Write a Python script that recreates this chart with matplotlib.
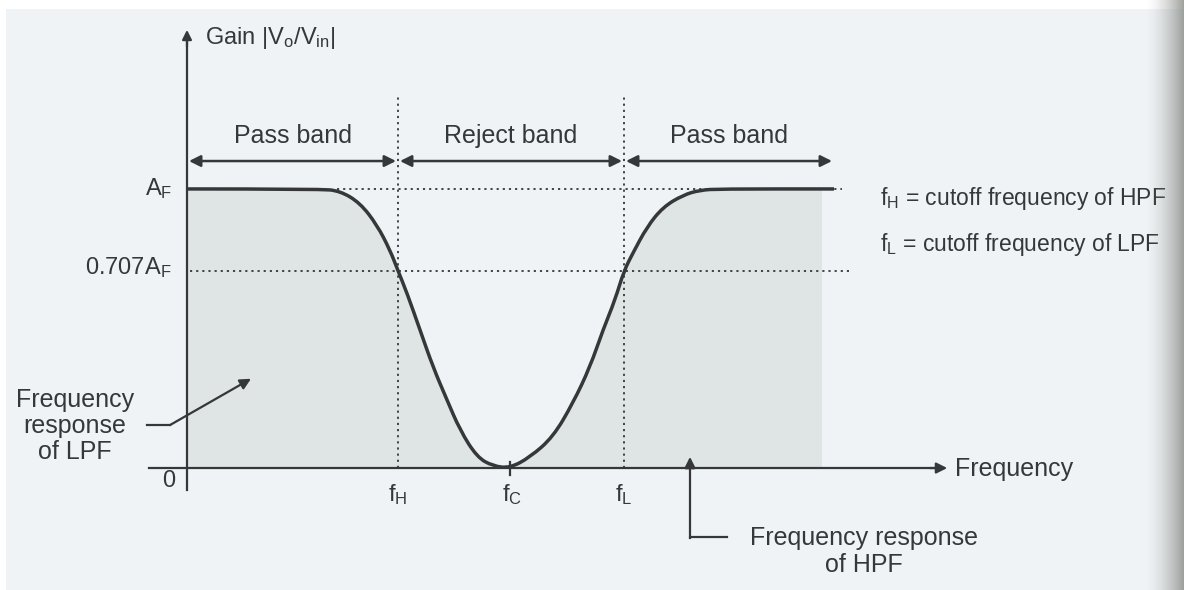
import numpy as np
import matplotlib
matplotlib.use("Agg")
import matplotlib.pyplot as plt
from matplotlib.patches import Rectangle, PathPatch
from matplotlib.path import Path

plt.rcParams['font.family'] = ['Liberation Sans', 'DejaVu Sans']
plt.rcParams['mathtext.default'] = 'regular'

# band-reject response: gain (relative to A_F) against frequency (arbitrary units)
freq = [0, 1.33, 1.53, 1.73, 1.90, 2.03, 2.11, 2.20, 2.33, 2.46, 2.60, 2.73, 2.90,
        3.06, 3.23, 3.43, 3.66, 3.86, 4.03, 4.16, 4.28, 4.37, 4.46, 4.60, 4.76,
        4.96, 5.13, 5.33, 6.47]
gain = [1.0, 1.0, 0.993, 0.95, 0.871, 0.781, 0.707, 0.627, 0.495, 0.362, 0.244,
        0.136, 0.039, 0.007, 0.0, 0.039, 0.111, 0.233, 0.362, 0.495, 0.602, 0.707,
        0.771, 0.864, 0.935, 0.978, 0.996, 1.0, 1.0]

f_H = 2.11
f_C = 3.23
f_L = 4.37
f_end = 6.47
shade_end = 6.35
A_F = 1.0
half_power = 0.707

band_names = ['Pass band', 'Reject band', 'Pass band']
band_edges = [0, f_H, f_L, f_end]

ink = '#353739'
paper = '#eff3f6'
shade = '#dfe4e4'


def smooth_path(xs, ys):
    # quadratic bezier: points are control points, curve runs through midpoints
    verts = [(xs[0], ys[0])]
    codes = [Path.MOVETO]
    for i in range(1, len(xs) - 1):
        mx = (xs[i] + xs[i + 1]) / 2
        my = (ys[i] + ys[i + 1]) / 2
        verts += [(xs[i], ys[i]), (mx, my)]
        codes += [Path.CURVE3, Path.CURVE3]
    verts.append((xs[-1], ys[-1]))
    codes.append(Path.LINETO)
    return verts, codes


fig = plt.figure(figsize=(11.84, 5.90), dpi=100)
fig.patch.set_facecolor('white')
fig.patches.append(Rectangle((0.005, 0), 0.995, 0.985, transform=fig.transFigure,
                             facecolor=paper, edgecolor='none', zorder=-10))
ax = fig.add_axes([0, 0, 1, 1])
ax.set_facecolor('none')
ax.set_xlim(-1.87, 9.97)
ax.set_ylim(-0.437, 1.677)
ax.axis('off')

# shaded area under the response
sf = freq[:-1] + [shade_end]
sg = gain[:-1] + [A_F]
v, c = smooth_path(sf, sg)
v += [(shade_end, 0), (0, 0), (0, 0)]
c += [Path.LINETO, Path.LINETO, Path.CLOSEPOLY]
ax.add_patch(PathPatch(Path(v, c), facecolor=shade, edgecolor='none', zorder=1))

# dotted guide lines
dots = (0, (1.2, 2.2))
ax.plot([f_H, f_H], [0, 1.34], ls=dots, color=ink, lw=1.3, zorder=2)
ax.plot([f_L, f_L], [0, 1.34], ls=dots, color=ink, lw=1.3, zorder=2)
ax.plot([1.5, 6.55], [A_F, A_F], ls=dots, color=ink, lw=1.3, zorder=2)
ax.plot([0.03, 6.62], [half_power, half_power], ls=dots, color=ink, lw=1.3, zorder=2)

# the response curve
v, c = smooth_path(freq, gain)
ax.add_patch(PathPatch(Path(v, c), facecolor='none', edgecolor=ink, lw=2.5,
                       joinstyle='round', capstyle='butt', zorder=4))

# axes with arrows
ax.plot([0, 0], [-0.08, 1.55], color=ink, lw=1.6, zorder=3)
ax.annotate('', xy=(0, 1.58), xytext=(0, 1.50),
            arrowprops=dict(arrowstyle='-|>', color=ink, lw=1.6, mutation_scale=14), zorder=3)
ax.plot([-0.38, 7.5], [0, 0], color=ink, lw=1.6, zorder=3)
ax.annotate('', xy=(7.63, 0), xytext=(7.4, 0),
            arrowprops=dict(arrowstyle='-|>', color=ink, lw=1.6, mutation_scale=16), zorder=3)
ax.plot([f_C, f_C], [-0.025, 0.02], color=ink, lw=1.6, zorder=3)

# band arrows and names
for i, name in enumerate(band_names):
    a, b = band_edges[i], band_edges[i + 1]
    ax.annotate('', xy=(a + 0.02, 1.10), xytext=(b - 0.02, 1.10),
                arrowprops=dict(arrowstyle='<|-|>', color=ink, lw=1.8,
                                mutation_scale=17, shrinkA=0, shrinkB=0), zorder=3)
    ax.text((a + b) / 2, 1.19, name, ha='center', va='center', fontsize=18, color=ink)

# axis labels
ax.text(0.18, 1.54, 'Gain |V$_o$/V$_{in}$|', ha='left', va='center', fontsize=17, color=ink)
ax.text(7.68, -0.005, 'Frequency', ha='left', va='center', fontsize=18, color=ink)
ax.text(-0.15, A_F, 'A$_F$', ha='right', va='center', fontsize=17, color=ink)
ax.text(-0.15, half_power + 0.01, '0.707A$_F$', ha='right', va='center', fontsize=17, color=ink)
ax.text(-0.12, -0.045, '0', ha='right', va='center', fontsize=17, color=ink)
for pos, lab in [(f_H, 'f$_H$'), (f_C + 0.02, 'f$_C$'), (f_L, 'f$_L$')]:
    ax.text(pos, -0.095, lab, ha='center', va='center', fontsize=17, color=ink)

# legend text for cutoff frequencies
ax.text(6.93, 0.965, 'f$_H$ = cutoff frequency of HPF', ha='left', va='center',
        fontsize=16.5, color=ink)
ax.text(6.93, 0.80, 'f$_L$ = cutoff frequency of LPF', ha='left', va='center',
        fontsize=16.5, color=ink)

# LPF callout
ax.text(-1.12, 0.15, 'Frequency\nresponse\nof LPF', ha='center', va='center',
        fontsize=18, color=ink, linespacing=1.1)
ax.plot([-0.40, -0.17], [0.154, 0.154], color=ink, lw=1.6, zorder=3)
ax.annotate('', xy=(0.64, 0.32), xytext=(-0.17, 0.154),
            arrowprops=dict(arrowstyle='-|>', color=ink, lw=1.6, mutation_scale=16,
                            shrinkA=0, shrinkB=0), zorder=3)

# HPF callout
ax.annotate('', xy=(5.03, 0.04), xytext=(5.03, -0.25),
            arrowprops=dict(arrowstyle='-|>', color=ink, lw=1.6, mutation_scale=16,
                            shrinkA=0, shrinkB=0), zorder=3)
ax.plot([5.03, 5.03, 5.40], [-0.25, -0.248, -0.248], color=ink, lw=1.6, zorder=3)
ax.text(6.77, -0.30, 'Frequency response\nof HPF', ha='center', va='center',
        fontsize=18, color=ink, linespacing=1.15)

# darkened page edge on the right
edge = fig.add_axes([1145 / 1184, 0, 39 / 1184, 1])
ramp = np.linspace(0, 1, 60) ** 1.6
img = np.zeros((1, 60, 4))
img[..., :3] = np.array([0.56, 0.57, 0.55])
img[..., 3] = ramp * 0.85
edge.imshow(img, aspect='auto', extent=[0, 1, 0, 1])
edge.axis('off')

fig.savefig('out.png', dpi=100)
